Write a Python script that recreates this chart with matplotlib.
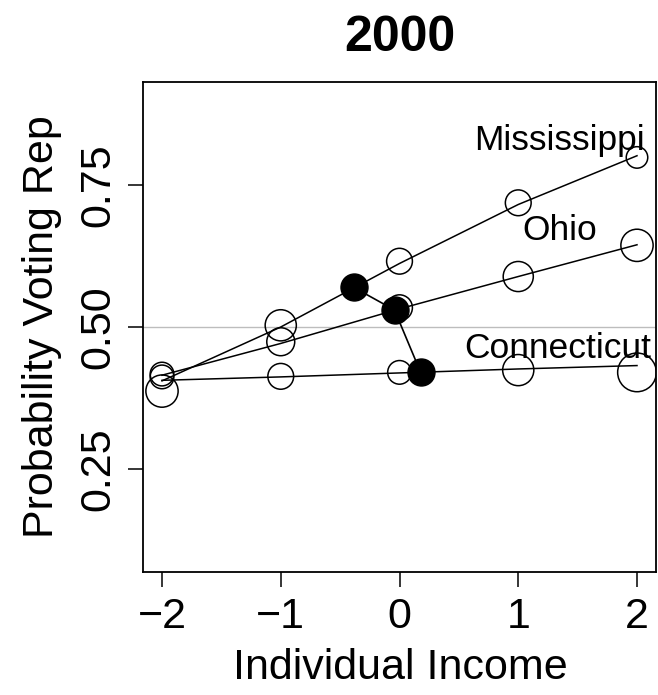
import matplotlib
matplotlib.use("Agg")
import matplotlib.pyplot as plt
import numpy as np

plt.rcParams['font.family'] = ['Liberation Sans', 'DejaVu Sans']

income = [-2, -1, 0, 1, 2]
states = ["Mississippi", "Ohio", "Connecticut"]

# observed share voting Republican in each income category
obs_ms = [0.387, 0.503, 0.616, 0.719, 0.799]
obs_oh = [0.417, 0.474, 0.534, 0.589, 0.644]
obs_ct = [0.412, 0.413, 0.420, 0.424, 0.420]

# respondents in each income category (circle area)
n_ms = [225, 210, 144, 144, 100]
n_oh = [121, 169, 144, 196, 225]
n_ct = [121, 144, 121, 210, 324]

# fitted probability of voting Republican
fit_ms = [0.405, 0.500, 0.612, 0.716, 0.802]
fit_oh = [0.415, 0.471, 0.532, 0.589, 0.645]
fit_ct = [0.406, 0.412, 0.419, 0.426, 0.432]

# average income of each state and the fitted probability there
mean_income = [-0.387, -0.042, 0.178]
mean_prob = [0.570, 0.530, 0.420]

x_ticks = [-2, -1, 0, 1, 2]
y_ticks = [0.25, 0.50, 0.75]
y_tick_labels = ["0.25", "0.50", "0.75"]

W, H = 658, 695
fig = plt.figure(figsize=(W / 100, H / 100), dpi=100)
left, right, top, bottom = 143, 656, 82, 572
ax = fig.add_axes([left / W, 1 - bottom / H, (right - left) / W, (bottom - top) / H])

ax.set_xlim(-2.16, 2.16)
ax.set_ylim(0.068, 0.932)

ax.axhline(0.5, color="#bdbdbd", lw=1.0, zorder=1)

px_to_pt = 0.72


def circle_sizes(n):
    d_px = 2.15 * np.sqrt(np.asarray(n, dtype=float))
    return (d_px * px_to_pt) ** 2


series = [(obs_ms, n_ms, fit_ms), (obs_oh, n_oh, fit_oh), (obs_ct, n_ct, fit_ct)]
for obs, n, fit in series:
    ax.plot(income, fit, color="black", lw=1.1, zorder=2)
    ax.scatter(income, obs, s=circle_sizes(n), facecolors="none",
               edgecolors="black", linewidths=1.1, zorder=3)

ax.plot(mean_income, mean_prob, color="black", lw=1.2, zorder=4)
ax.plot(mean_income, mean_prob, "o", color="black", ms=27 * px_to_pt, zorder=5)

label_pos = [(1.35, 0.829), (1.35, 0.670), (1.33, 0.462)]
for name, (lx, ly) in zip(states, label_pos):
    ax.text(lx, ly, name, ha="center", va="center", fontsize=25.5, zorder=6)

ax.set_xticks(x_ticks)
ax.set_xticklabels(["\u22122", "\u22121", "0", "1", "2"])
ax.set_yticks(y_ticks)
ax.set_yticklabels(y_tick_labels, rotation=90, va="center")
ax.tick_params(direction="out", length=10.8, width=1.1, labelsize=31, pad=7)

for sp in ax.spines.values():
    sp.set_linewidth(1.3)

fig.text(400 / W, 1 - 38 / H, "2000", ha="center", va="center",
         fontsize=36, fontweight="bold")
fig.text(400 / W, 1 - 668 / H, "Individual Income", ha="center", va="center",
         fontsize=31)
fig.text(42 / W, 1 - 327 / H, "Probability Voting Rep", ha="center", va="center",
         fontsize=31, rotation=90)

fig.savefig("out.png", dpi=100)
